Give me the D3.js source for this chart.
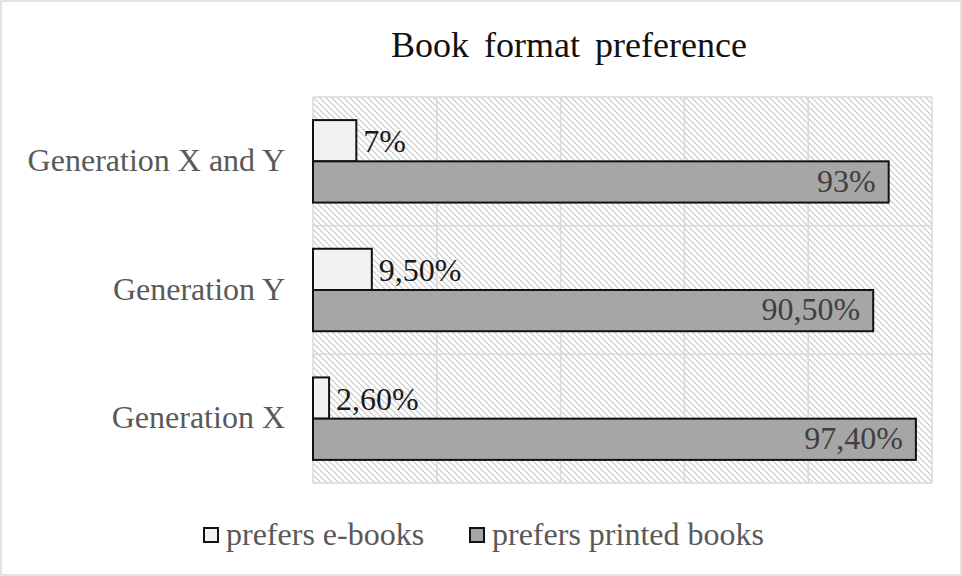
<!DOCTYPE html>
<html><head><meta charset="utf-8">
<script src="https://cdn.jsdelivr.net/npm/d3@7"></script>
<style>
html,body{margin:0;padding:0;background:#fff;}
svg{display:block;}
text{font-family:"Liberation Serif","Times New Roman",serif;}
</style></head>
<body>
<svg id="chart" width="962" height="576"></svg>
<script>
const title = "Book format preference";
const categories = ["Generation X and Y", "Generation Y", "Generation X"];
const seriesNames = ["prefers e-books", "prefers printed books"];
const ebooks = [7, 9.5, 2.6];
const printed = [93, 90.5, 97.4];
const ebookLabels = ["7%", "9,50%", "2,60%"];
const printedLabels = ["93%", "90,50%", "97,40%"];
const xTicks = [0, 20, 40, 60, 80, 100];

const svg = d3.select("#chart");
const W = 962, H = 576;
const m = {left: 313, right: 30, top: 97, bottom: 93};
const pw = W - m.left - m.right, ph = H - m.top - m.bottom;

// outer border
svg.append("rect").attr("x",1).attr("y",1).attr("width",W-2).attr("height",H-2)
  .attr("fill","#fff").attr("stroke","#d9d9d9").attr("stroke-width",1.5);

// pattern
const defs = svg.append("defs");
const pat = defs.append("pattern").attr("id","hatch").attr("patternUnits","userSpaceOnUse")
  .attr("width",6).attr("height",6);
pat.append("rect").attr("width",6).attr("height",6).attr("fill","#fff");
pat.append("path").attr("d","M-1,-1 L7,7 M-1,5 L1,7 M5,-1 L7,1")
  .attr("stroke","#c9c9c9").attr("stroke-width",1.2);

const x = d3.scaleLinear().domain([0,100]).range([0,pw]);
const y = d3.scaleBand().domain(categories).range([0,ph]).paddingInner(0).paddingOuter(0);
const inner = d3.scaleBand().domain(seriesNames).range([0,y.bandwidth()]).paddingInner(0).paddingOuter(0.56);

const g = svg.append("g").attr("transform",`translate(${m.left},${m.top})`);
g.append("rect").attr("width",pw).attr("height",ph).attr("fill","url(#hatch)");

// vertical gridlines
g.selectAll(".vg").data(xTicks).join("line")
  .attr("x1",d=>x(d)).attr("x2",d=>x(d)).attr("y1",0).attr("y2",ph)
  .attr("stroke","#d9d9d9").attr("stroke-width",1.5);
// horizontal gridlines at category boundaries
const hb = [0, ...categories.map(c=>y(c)+y.bandwidth())];
g.selectAll(".hg").data(hb).join("line")
  .attr("x1",0).attr("x2",pw).attr("y1",d=>d).attr("y2",d=>d)
  .attr("stroke","#d9d9d9").attr("stroke-width",1.5);

// category labels
g.selectAll(".cat").data(categories).join("text")
  .attr("x",-28).attr("y",d=>y(d)+y.bandwidth()/2).attr("dy","0.3em")
  .attr("text-anchor","end").attr("font-size",32).attr("fill","#595959").text(d=>d);

const rows = categories.map((c,i)=>({c, e: ebooks[i], p: printed[i], el: ebookLabels[i], pl: printedLabels[i]}));

// e-book bars
g.selectAll(".eb").data(rows).join("rect")
  .attr("x",0).attr("y",d=>y(d.c)+inner(seriesNames[0]))
  .attr("width",d=>x(d.e)).attr("height",inner.bandwidth())
  .attr("fill","#f2f2f2").attr("stroke","#111").attr("stroke-width",2);
// printed bars
g.selectAll(".pb").data(rows).join("rect")
  .attr("x",0).attr("y",d=>y(d.c)+inner(seriesNames[1]))
  .attr("width",d=>x(d.p)).attr("height",inner.bandwidth())
  .attr("fill","#a6a6a6").attr("stroke","#111").attr("stroke-width",2);

// labels
g.selectAll(".el").data(rows).join("text")
  .attr("x",d=>x(d.e)+7).attr("y",d=>y(d.c)+inner(seriesNames[0])+inner.bandwidth()/2).attr("dy","0.36em")
  .attr("font-size",32).attr("fill","#1a1a1a").text(d=>d.el);
g.selectAll(".pl").data(rows).join("text")
  .attr("x",d=>x(d.p)-13).attr("y",d=>y(d.c)+inner(seriesNames[1])+inner.bandwidth()/2).attr("dy","0.3em")
  .attr("text-anchor","end").attr("font-size",32).attr("fill","#404040").text(d=>d.pl);

// title
svg.append("text").attr("x",569).attr("y",57).attr("text-anchor","middle")
  .attr("font-size",36).attr("fill","#111").attr("word-spacing","6px").text(title);

// legend
const legendX = [204, 470];
const fills = ["#f2f2f2","#a6a6a6"];
const lg = svg.append("g");
seriesNames.forEach((s,i)=>{
  lg.append("rect").attr("x",legendX[i]).attr("y",528).attr("width",14).attr("height",14)
    .attr("fill",fills[i]).attr("stroke","#111").attr("stroke-width",2);
  lg.append("text").attr("x",legendX[i]+22).attr("y",545).attr("font-size",32)
    .attr("fill","#595959").text(s);
});
</script>
</body></html>
